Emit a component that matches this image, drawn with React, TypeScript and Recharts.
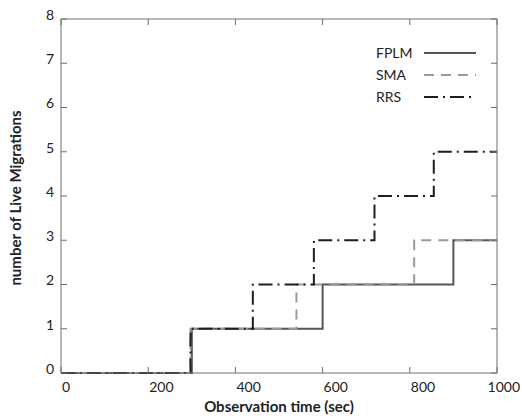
import React from "react";
import { LineChart, Line, XAxis, YAxis, Legend } from "recharts";

// step times (sec) and cumulative count of live migrations
const fplmTime = [0, 300, 600, 900, 1000];
const fplmCount = [0, 1, 2, 3, 3];
const smaTime = [0, 297, 540, 810, 1000];
const smaCount = [0, 1, 2, 3, 3];
const rrsTime = [0, 297, 440, 580, 719, 855, 1000];
const rrsCount = [0, 1, 2, 3, 4, 5, 5];

const xTicks = [0, 200, 400, 600, 800, 1000];
const yTicks = [0, 1, 2, 3, 4, 5, 6, 7, 8];

const toPoints = (t: number[], v: number[]) => t.map((time, i) => ({ t: time, v: v[i] }));

const series = [
  { name: "FPLM", data: toPoints(fplmTime, fplmCount), color: "#555555", dash: undefined },
  { name: "SMA", data: toPoints(smaTime, smaCount), color: "#9a9a9a", dash: "10 7" },
  { name: "RRS", data: toPoints(rrsTime, rrsCount), color: "#1e1e1e", dash: "14 5 2 5" },
];

const FRAME = "#6e6e6e";
const FONT = "Lato, 'Noto Sans', sans-serif";
const TEXT = "#222";

const BottomTick = (props: any) => {
  const { x, y, payload } = props;
  const last = payload.value === 1000;
  return (
    <g>
      <line x1={x} x2={x} y1={y} y2={y - 6} stroke={FRAME} />
      <text
        x={last ? 520 : x + 1}
        y={y + 19}
        textAnchor={last ? "end" : "start"}
        fontSize={14}
        fontFamily={FONT}
        fill={TEXT}
      >
        {payload.value}
      </text>
    </g>
  );
};

const TopTick = (props: any) => {
  const { x, y } = props;
  return <line x1={x} x2={x} y1={y} y2={y + 6} stroke={FRAME} />;
};

const LeftTick = (props: any) => {
  const { x, y, payload } = props;
  return (
    <g>
      <line x1={x} x2={x + 6} y1={y} y2={y} stroke={FRAME} />
      <text x={x - 7} y={y - 4} dy="0.35em" textAnchor="end" fontSize={14} fontFamily={FONT} fill={TEXT}>
        {payload.value}
      </text>
    </g>
  );
};

const RightTick = (props: any) => {
  const { x, y } = props;
  return <line x1={x} x2={x - 6} y1={y} y2={y} stroke={FRAME} />;
};

const LegendBox = () => (
  <svg width={130} height={70}>
    {series.map((s, i) => (
      <g key={s.name}>
        <text x={6} y={13 + i * 22} dy="0.35em" fontSize={14} fontFamily={FONT} fill={TEXT}>
          {s.name}
        </text>
        <line
          x1={54}
          x2={106}
          y1={13 + i * 22}
          y2={13 + i * 22}
          stroke={s.color}
          strokeWidth={2}
          strokeDasharray={s.dash}
        />
      </g>
    ))}
  </svg>
);

export default function App() {
  return (
    <div style={{ position: "absolute", left: 0, top: 0, width: 522, height: 420, background: "#fff" }}>
      <LineChart width={522} height={420} margin={{ top: 18, right: 24, left: 0, bottom: 0 }}>
        <XAxis
          xAxisId="bottom"
          dataKey="t"
          type="number"
          domain={[0, 1000]}
          ticks={xTicks}
          interval={0}
          height={47}
          tickSize={0}
          tickMargin={0}
          tickLine={false}
          axisLine={{ stroke: FRAME }}
          tick={<BottomTick />}
        />
        <XAxis
          xAxisId="top"
          orientation="top"
          dataKey="t"
          type="number"
          domain={[0, 1000]}
          ticks={xTicks}
          interval={0}
          height={1}
          tickSize={0}
          tickMargin={0}
          tickLine={false}
          axisLine={{ stroke: FRAME }}
          tick={<TopTick />}
        />
        <YAxis
          yAxisId="left"
          type="number"
          domain={[0, 8]}
          ticks={yTicks}
          interval={0}
          width={61}
          tickSize={0}
          tickMargin={0}
          tickLine={false}
          axisLine={{ stroke: FRAME }}
          tick={<LeftTick />}
        />
        <YAxis
          yAxisId="right"
          orientation="right"
          type="number"
          domain={[0, 8]}
          ticks={yTicks}
          interval={0}
          width={1}
          tickSize={0}
          tickMargin={0}
          tickLine={false}
          axisLine={{ stroke: FRAME }}
          tick={<RightTick />}
        />
        {/* invisible series bound to the mirrored top/right axes */}
        <Line
          xAxisId="top"
          yAxisId="right"
          data={series[0].data}
          dataKey="v"
          stroke="none"
          dot={false}
          activeDot={false}
          legendType="none"
          isAnimationActive={false}
        />
        {series.map((s) => (
          <Line
            key={s.name}
            xAxisId="bottom"
            yAxisId="left"
            name={s.name}
            data={s.data}
            dataKey="v"
            type="stepAfter"
            stroke={s.color}
            strokeWidth={2}
            strokeDasharray={s.dash}
            dot={false}
            activeDot={false}
            isAnimationActive={false}
          />
        ))}
        <Legend
          layout="vertical"
          align="center"
          verticalAlign="middle"
          content={<LegendBox />}
          wrapperStyle={{ position: "absolute", left: 370, top: 40, width: 130, height: 70 }}
        />
      </LineChart>
      <div
        style={{
          position: "absolute",
          left: 0,
          width: 522,
          top: 397,
          textAlign: "center",
          paddingLeft: 36,
          boxSizing: "border-box",
          fontFamily: FONT,
          fontWeight: 700,
          fontSize: 15,
          color: TEXT,
        }}
      >
        Observation time (sec)
      </div>
      <div
        style={{
          position: "absolute",
          left: 15,
          top: 198,
          transform: "translate(-50%, -50%) rotate(-90deg)",
          whiteSpace: "nowrap",
          fontFamily: FONT,
          fontWeight: 700,
          fontSize: 15,
          color: TEXT,
        }}
      >
        number of Live Migrations
      </div>
    </div>
  );
}
